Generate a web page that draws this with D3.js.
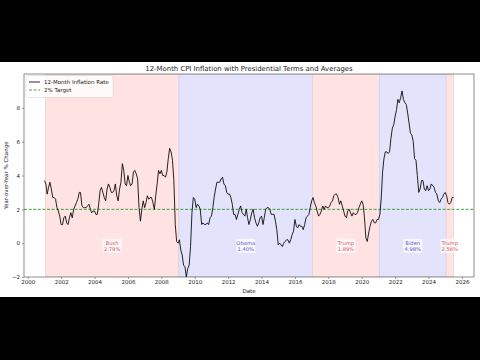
<!DOCTYPE html>
<html><head><meta charset="utf-8">
<script src="https://cdn.jsdelivr.net/npm/d3@7"></script>
<style>
html,body{margin:0;padding:0;background:#000;}
svg{display:block;font-family:"DejaVu Sans",sans-serif;}
</style></head>
<body><svg id="c" width="480" height="360"></svg>
<script>
// Monthly 12-month CPI inflation (%), Jan 2001 .. Jul 2025
const startYear = 2001;
const inflation = [
  3.7,3.5,2.9,3.3,3.6,3.2,2.7,2.7,2.6,2.1,1.9,1.6,
  1.1,1.1,1.5,1.6,1.2,1.1,1.5,1.8,1.5,2.0,2.2,2.4,
  2.6,3.0,3.0,2.2,2.1,2.1,2.1,2.2,2.3,2.0,1.8,1.9,
  1.9,1.7,1.7,2.3,3.1,3.3,3.0,2.7,2.5,3.2,3.5,3.3,
  3.0,3.0,3.1,3.5,2.8,2.5,3.2,3.6,4.7,4.3,3.5,3.4,
  4.0,3.6,3.4,3.5,4.2,4.3,4.1,3.8,2.1,1.3,2.0,2.5,
  2.1,2.4,2.8,2.6,2.7,2.7,2.4,2.0,2.8,3.5,4.3,4.1,
  4.3,4.0,4.0,3.9,4.2,5.0,5.6,5.4,4.9,3.7,1.1,0.1,
  0.0,0.2,-0.4,-0.7,-1.3,-1.4,-2.0,-1.5,-1.3,-0.2,1.8,2.7,
  2.6,2.1,2.3,2.2,2.0,1.1,1.2,1.1,1.1,1.2,1.1,1.5,
  1.6,2.1,2.7,3.2,3.6,3.6,3.6,3.8,3.9,3.5,3.4,3.0,
  2.9,2.9,2.7,2.3,1.7,1.7,1.4,1.7,2.0,2.2,1.8,1.7,
  1.6,2.0,1.5,1.1,1.4,1.8,2.0,1.5,1.2,1.0,1.2,1.5,
  1.6,1.1,1.5,2.0,2.1,2.1,2.0,1.7,1.7,1.7,1.3,0.8,
  -0.1,0.0,-0.1,-0.2,0.0,0.1,0.2,0.2,0.0,0.2,0.5,0.7,
  1.4,1.0,0.9,1.1,1.0,1.0,0.8,1.1,1.5,1.6,1.7,2.1,
  2.5,2.7,2.4,2.2,1.9,1.6,1.7,1.9,2.2,2.0,2.2,2.1,
  2.1,2.2,2.4,2.5,2.8,2.9,2.9,2.7,2.3,2.5,2.2,1.9,
  1.6,1.5,1.9,2.0,1.8,1.6,1.8,1.7,1.7,1.8,2.1,2.3,
  2.5,2.3,1.5,0.3,0.1,0.6,1.0,1.3,1.4,1.2,1.2,1.4,
  1.4,1.7,2.6,4.2,5.0,5.4,5.4,5.3,5.4,6.2,6.8,7.0,
  7.5,7.9,8.5,8.3,8.6,9.0,8.5,8.3,8.2,7.7,7.1,6.5,
  6.4,6.0,5.0,4.9,4.0,3.0,3.2,3.7,3.7,3.2,3.1,3.4,
  3.1,3.2,3.5,3.4,3.3,3.0,2.9,2.5,2.4,2.6,2.7,2.9,
  3.0,2.8,2.4,2.3,2.4,2.7,2.7
];
const presidents = ["Bush","Obama","Trump","Biden","Trump"];
const parties = ["R","D","R","D","R"];
const termStarts = ["2001-01-20","2009-01-20","2017-01-20","2021-01-20","2025-01-20"];
const termEnds = ["2009-01-20","2017-01-20","2021-01-20","2025-01-20",null];
const averages = ["2.79%","1.40%","1.89%","4.98%","2.56%"];
const yTicks = [-2,0,2,4,6,8];
const targetRate = 2;

const data = inflation.map((v,i)=>({date:new Date(startYear, i, 1), value:v}));
const parse = d3.timeParse("%Y-%m-%d");
const lastDate = data[data.length-1].date;
const terms = presidents.map((p,i)=>({name:p, party:parties[i],
  start:parse(termStarts[i]), end: termEnds[i]?parse(termEnds[i]):lastDate, avg:averages[i]}));

const svg = d3.select("#c");
svg.append("rect").attr("x",0).attr("y",62).attr("width",480).attr("height",235).attr("fill","#fff");

const L=24,R=474,T=74,B=277;
const ext = d3.extent(data,d=>d.date);
const pad = (ext[1]-ext[0])*0.05;
const x = d3.scaleTime().domain([new Date(+ext[0]-pad), new Date(+ext[1]+pad)]).range([L,R]);
const y = d3.scaleLinear().domain([-2,10]).range([B,T]);

svg.append("defs").append("clipPath").attr("id","clip")
  .append("rect").attr("x",L).attr("y",T).attr("width",R-L).attr("height",B-T);
const g = svg.append("g").attr("clip-path","url(#clip)");

const fillC = {R:"#ffe3e3", D:"#e3e3fb"};
const edgeC = {R:"#f0c8cc", D:"#c8c8ee"};
g.selectAll("rect.term").data(terms).enter().append("rect")
  .attr("x",d=>x(d.start)).attr("y",T).attr("width",d=>x(d.end)-x(d.start)).attr("height",B-T)
  .attr("fill",d=>fillC[d.party]).attr("stroke",d=>edgeC[d.party]).attr("stroke-width",0.6);

const green = "#2a9a2a";
g.append("line").attr("x1",L).attr("x2",R).attr("y1",y(targetRate)).attr("y2",y(targetRate))
  .attr("stroke",green).attr("stroke-width",0.9).attr("stroke-dasharray","3,1.6");

g.append("path").datum(data)
  .attr("d",d3.line().x(d=>x(d.date)).y(d=>y(d.value)))
  .attr("fill","none").attr("stroke","#000").attr("stroke-width",0.85).attr("stroke-linejoin","round");

// term labels
const lab = svg.append("g");
terms.forEach(t=>{
  const cx = x(new Date((+t.start + +t.end)/2));
  const col = t.party==="R" ? "#d2595c" : "#5a5acb";
  const gg = lab.append("g");
  const bw = 19, bh = 14;
  gg.append("rect").attr("x",cx-bw/2).attr("y",y(-0.15)-bh/2).attr("width",bw).attr("height",bh)
    .attr("fill","#fff").attr("fill-opacity",0.7).attr("rx",1);
  gg.append("text").attr("x",cx).attr("y",y(-0.15)-1).attr("text-anchor","middle")
    .attr("font-size",5.2).attr("fill",col).text(t.name);
  gg.append("text").attr("x",cx).attr("y",y(-0.15)+5).attr("text-anchor","middle")
    .attr("font-size",5.2).attr("fill",col).text(t.avg);
});

// axes
const xAxis = d3.axisBottom(x).ticks(d3.timeYear.every(2)).tickFormat(d3.timeFormat("%Y")).tickSize(2).tickPadding(1.5);
const gx = svg.append("g").attr("transform",`translate(0,${B})`).call(xAxis);
const yAxis = d3.axisLeft(y).tickValues(yTicks).tickFormat(d=>d<0?"\u2212"+Math.abs(d):d).tickSize(2).tickPadding(2);
const gy = svg.append("g").attr("transform",`translate(${L},0)`).call(yAxis);
[gx,gy].forEach(a=>{
  a.select(".domain").remove();
  a.selectAll("text").attr("font-size",5.5).attr("fill","#222").attr("font-family","DejaVu Sans");
  a.selectAll("line").attr("stroke","#444").attr("stroke-width",0.5);
});
svg.append("rect").attr("x",L).attr("y",T).attr("width",R-L).attr("height",B-T)
  .attr("fill","none").attr("stroke","#444").attr("stroke-width",0.6);

svg.append("text").attr("x",(L+R)/2).attr("y",71).attr("text-anchor","middle")
  .attr("font-size",6.9).attr("fill","#222").text("12-Month CPI Inflation with Presidential Terms and Averages");
svg.append("text").attr("x",(L+R)/2).attr("y",293).attr("text-anchor","middle")
  .attr("font-size",5.5).attr("fill","#222").text("Date");
svg.append("text").attr("transform",`translate(8,${(T+B)/2}) rotate(-90)`).attr("text-anchor","middle")
  .attr("font-size",5.5).attr("fill","#222").text("Year-over-Year % Change");

// legend
const lg = svg.append("g");
lg.append("rect").attr("x",26).attr("y",75.5).attr("width",87).attr("height",22).attr("rx",1.5)
  .attr("fill","#fff").attr("fill-opacity",0.8).attr("stroke","#ccc").attr("stroke-width",0.5);
const items = [{label:"12-Month Inflation Rate", color:"#000", dash:null},{label:"2% Target", color:green, dash:"3,1.6"}];
items.forEach((it,i)=>{
  const yy = 82 + i*8;
  lg.append("line").attr("x1",29).attr("x2",40).attr("y1",yy).attr("y2",yy)
    .attr("stroke",it.color).attr("stroke-width",0.85).attr("stroke-dasharray",it.dash);
  lg.append("text").attr("x",44).attr("y",yy+2).attr("font-size",5.5).attr("fill","#222").text(it.label);
});
</script></body></html>
